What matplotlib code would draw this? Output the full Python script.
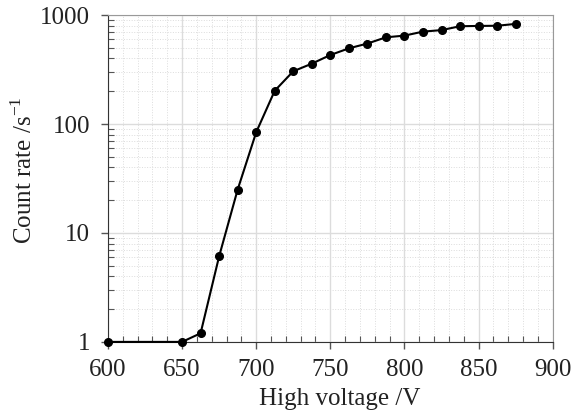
import matplotlib.pyplot as plt
from matplotlib.ticker import MultipleLocator, LogLocator, NullFormatter, FixedLocator

# high voltage (V) and count rate (1/s)
voltage = [600, 650, 662.5, 675, 687.5, 700, 712.5, 725, 737.5, 750, 762.5,
           775, 787.5, 800, 812.5, 825, 837.5, 850, 862.5, 875]
rate = [1, 1, 1.2, 6.1, 25, 84, 202, 305, 358, 430, 495,
        548, 625, 648, 705, 728, 790, 795, 798, 830]

plt.rcParams['font.family'] = ['Liberation Serif', 'DejaVu Serif']

fig = plt.figure(figsize=(5.71, 4.19), dpi=100)
ax = fig.add_axes([0.189, 0.184, 0.779, 0.780])

ax.plot(voltage, rate, color='black', lw=1.5, marker='o', ms=5.5, zorder=3, clip_on=False)

ax.set_yscale('log')
ax.set_xlim(600, 900)
ax.set_ylim(1, 1000)

ax.xaxis.set_major_locator(MultipleLocator(50))
ax.xaxis.set_minor_locator(MultipleLocator(10))
ax.yaxis.set_major_locator(FixedLocator([1, 10, 100, 1000]))
ax.set_yticklabels(['1', '10', '100', '1000'])
ax.yaxis.set_minor_locator(LogLocator(base=10, subs=range(2, 10)))
ax.yaxis.set_minor_formatter(NullFormatter())

ax.grid(which='major', color='#dcdcdc', lw=1.0, ls='-')
ax.grid(which='minor', color='#dcdcdc', lw=0.7, ls=':')

ax.tick_params(which='major', direction='out', length=5, width=1, labelsize=18,
               color='#555555', labelcolor='#222222')
ax.tick_params(axis='x', which='major', pad=7)
ax.tick_params(axis='y', which='major', pad=8)
ax.tick_params(which='minor', direction='in', length=4, width=0.8, color='#555555')

for side in ['left', 'bottom']:
    ax.spines[side].set_color('#333333')
for side in ['top', 'right']:
    ax.spines[side].set_color('#999999')

ax.set_xlabel('High voltage /V', fontsize=18, color='#222222')
ax.set_ylabel('Count rate /s$^{\\mathregular{-1}}$', fontsize=18, color='#222222')
ax.xaxis.set_label_coords(0.521, -0.14)
ax.yaxis.set_label_coords(-0.16, 0.526)

fig.savefig('out.png', dpi=100)
